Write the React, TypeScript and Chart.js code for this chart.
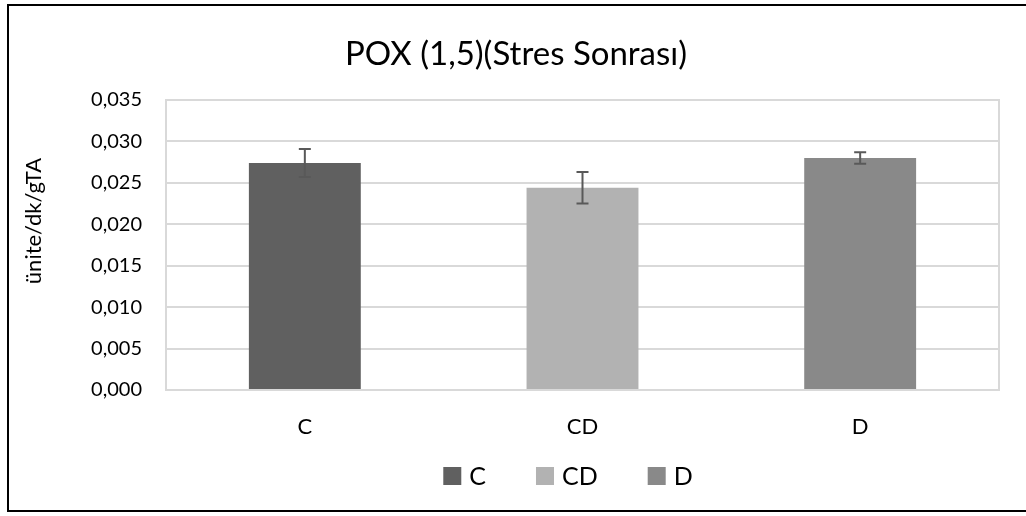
import React, { useEffect, useRef } from "react";
import { Chart, registerables } from "chart.js";

Chart.register(...registerables);

const categories: string[] = ["C", "CD", "D"];
const values: number[] = [0.0274, 0.0244, 0.028];
const errors: number[] = [0.0017, 0.0019, 0.0007];
const barColors: string[] = ["#606060", "#b2b2b2", "#898989"];
const titleText = "POX (1,5)(Stres Sonrası)";
const yAxisTitle = "ünite/dk/gTA";
const yMin = 0;
const yMax = 0.035;
const yStep = 0.005;

const FONT = "Lato, 'Open Sans', sans-serif";

const fmt = (v: number) => v.toFixed(3).replace(".", ",");

const decorPlugin = {
  id: "decor",
  beforeDatasetsDraw(chart: any) {
    const { ctx, chartArea } = chart;
    ctx.save();
    ctx.strokeStyle = "#d9d9d9";
    ctx.lineWidth = 2;
    ctx.strokeRect(chartArea.left, chartArea.top, chartArea.right - chartArea.left, chartArea.bottom - chartArea.top);
    ctx.restore();
  },
  afterDraw(chart: any) {
    const { ctx } = chart;
    const yScale = chart.scales.y;
    const meta = chart.getDatasetMeta(0);
    ctx.save();
    // error bars
    ctx.strokeStyle = "#595959";
    ctx.lineWidth = 2;
    meta.data.forEach((bar: any, i: number) => {
      const x = bar.x;
      const yt = yScale.getPixelForValue(values[i] + errors[i]);
      const yb = yScale.getPixelForValue(values[i] - errors[i]);
      const cap = 6;
      ctx.beginPath();
      ctx.moveTo(x, yt);
      ctx.lineTo(x, yb);
      ctx.moveTo(x - cap, yt);
      ctx.lineTo(x + cap, yt);
      ctx.moveTo(x - cap, yb);
      ctx.lineTo(x + cap, yb);
      ctx.stroke();
    });
    // outer border
    ctx.strokeStyle = "#000000";
    ctx.lineWidth = 2;
    ctx.strokeRect(8, 5, 1040, 506);
    // title
    ctx.fillStyle = "#000000";
    ctx.font = `33px ${FONT}`;
    ctx.textAlign = "center";
    ctx.textBaseline = "middle";
    ctx.fillText(titleText, 516, 54);
    // y-axis title
    ctx.save();
    ctx.translate(34, 221);
    ctx.rotate(-Math.PI / 2);
    ctx.font = `22px ${FONT}`;
    ctx.fillText(yAxisTitle, 0, 0);
    ctx.restore();
    // legend
    ctx.font = `25px ${FONT}`;
    ctx.textAlign = "left";
    const box = 18;
    const gap = 8;
    const spacing = 50;
    const widths = categories.map((c) => ctx.measureText(c).width);
    const total = widths.reduce((a, w) => a + box + gap + w, 0) + spacing * (categories.length - 1);
    let x = 568 - total / 2;
    const ly = 476;
    categories.forEach((c, i) => {
      ctx.fillStyle = barColors[i];
      ctx.fillRect(x, ly - box / 2, box, box);
      ctx.fillStyle = "#000000";
      ctx.fillText(c, x + box + gap, ly + 1);
      x += box + gap + widths[i] + spacing;
    });
    ctx.restore();
  },
};

export default function App() {
  const canvasRef = useRef<HTMLCanvasElement | null>(null);

  useEffect(() => {
    document.body.style.margin = "0";
    const canvas = canvasRef.current;
    if (!canvas) return;
    const chart = new Chart(canvas, {
      type: "bar",
      data: {
        labels: categories,
        datasets: [
          {
            label: "POX",
            data: values,
            backgroundColor: barColors,
            borderWidth: 0,
            categoryPercentage: 1,
            barPercentage: 0.403,
          },
        ],
      },
      options: {
        responsive: false,
        animation: false,
        layout: { padding: { top: 100, right: 27, bottom: 0, left: 0 } },
        plugins: {
          legend: { display: false },
          title: { display: false },
          tooltip: { enabled: false },
        },
        scales: {
          x: {
            afterFit: (scale: any) => {
              scale.height = 126;
            },
            grid: { display: false, drawTicks: false },
            border: { display: false },
            ticks: {
              color: "#000000",
              padding: 24,
              font: { family: FONT, size: 22 },
            },
          },
          y: {
            min: yMin,
            max: yMax,
            afterFit: (scale: any) => {
              scale.width = 166;
            },
            grid: { color: "#d9d9d9", lineWidth: 2, drawTicks: false },
            border: { display: false },
            ticks: {
              stepSize: yStep,
              color: "#000000",
              padding: 24,
              font: { family: FONT, size: 20 },
              callback: (v: any) => fmt(Number(v)),
            },
          },
        },
      },
      plugins: [decorPlugin],
    });
    return () => chart.destroy();
  }, []);

  return <canvas ref={canvasRef} width={1026} height={516} style={{ display: "block" }} />;
}
